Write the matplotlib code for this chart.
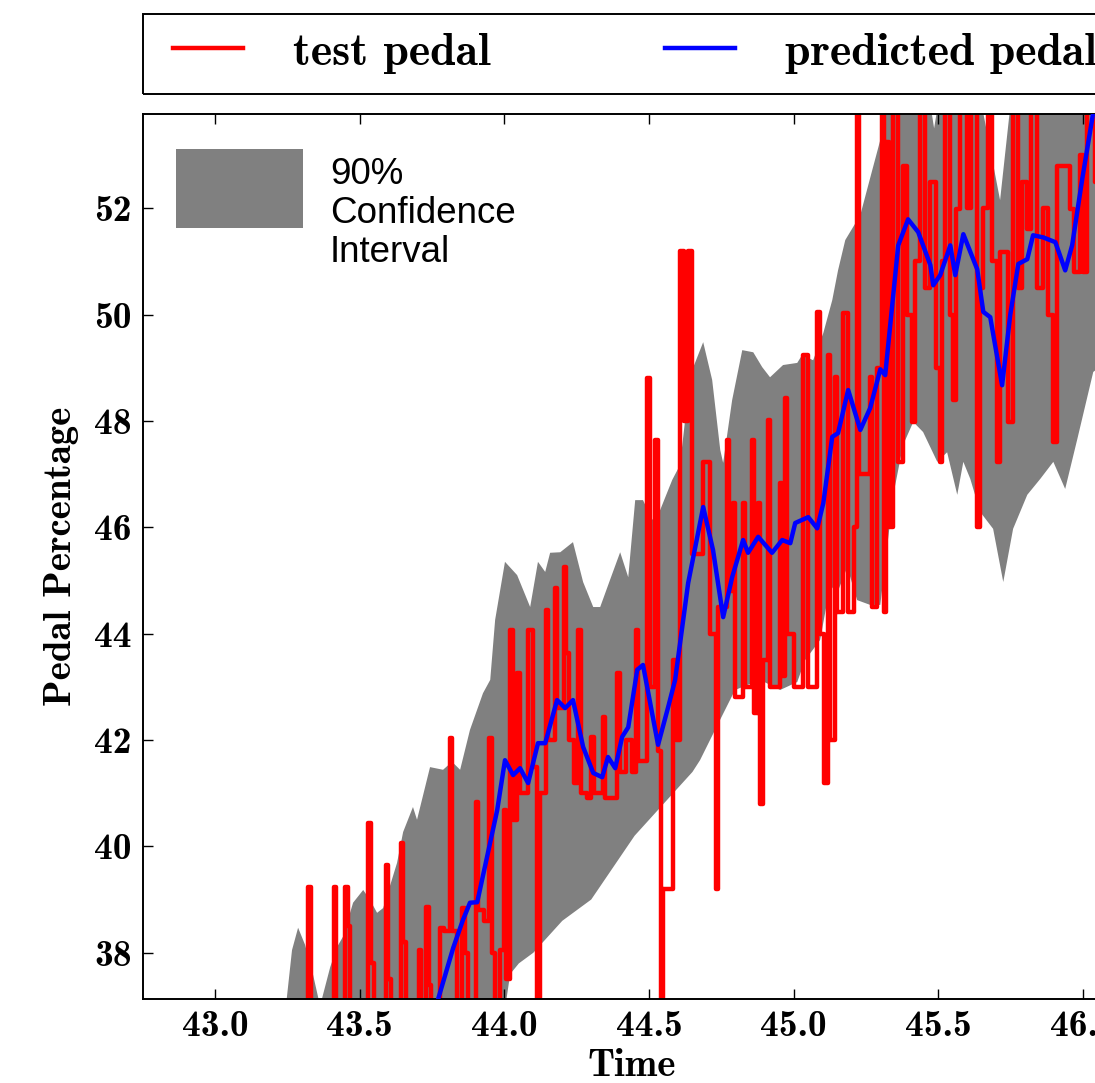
import numpy as np
import matplotlib
matplotlib.use("Agg")
import matplotlib.pyplot as plt
from matplotlib.ticker import FuncFormatter
from matplotlib.patches import Rectangle

# predicted pedal (blue)
pred_t = [43.771, 43.823, 43.857, 43.881, 43.906, 43.940, 43.975, 44.002, 44.030, 44.054,
          44.082, 44.116, 44.141, 44.182, 44.210, 44.237, 44.272, 44.307, 44.338, 44.358,
          44.383, 44.407, 44.428, 44.459, 44.479, 44.531, 44.566, 44.590, 44.635, 44.687,
          44.721, 44.756, 44.787, 44.825, 44.842, 44.877, 44.925, 44.960, 44.988, 45.005,
          45.050, 45.081, 45.102, 45.133, 45.153, 45.188, 45.230, 45.264, 45.299, 45.316,
          45.361, 45.395, 45.430, 45.472, 45.482, 45.506, 45.541, 45.558, 45.586, 45.634,
          45.655, 45.679, 45.720, 45.748, 45.776, 45.807, 45.827, 45.862, 45.904, 45.938,
          45.962, 45.997, 46.035, 46.100]
pred_v = [37.13, 38.09, 38.62, 38.94, 38.95, 39.80, 40.68, 41.62, 41.34, 41.47,
          41.19, 41.94, 41.94, 42.75, 42.60, 42.75, 41.87, 41.38, 41.30, 41.68,
          41.47, 42.06, 42.24, 43.32, 43.41, 41.91, 42.62, 43.13, 44.95, 46.38,
          45.57, 44.31, 45.06, 45.76, 45.52, 45.82, 45.52, 45.76, 45.70, 46.08,
          46.19, 45.98, 46.45, 47.70, 47.77, 48.58, 47.83, 48.24, 48.97, 48.86,
          51.30, 51.79, 51.55, 50.93, 50.55, 50.74, 51.30, 50.74, 51.51, 50.85,
          50.05, 49.95, 48.67, 49.99, 50.95, 51.04, 51.49, 51.45, 51.36, 50.83,
          51.30, 52.55, 53.80, 55.50]

# 90% confidence band, upper and lower edges
band_hi_t = [43.245, 43.266, 43.287, 43.311, 43.339, 43.363, 43.398, 43.422, 43.442, 43.477,
             43.512, 43.536, 43.560, 43.581, 43.629, 43.650, 43.684, 43.698, 43.743, 43.788,
             43.819, 43.847, 43.881, 43.926, 43.951, 43.968, 44.002, 44.044, 44.089, 44.116,
             44.141, 44.158, 44.193, 44.237, 44.272, 44.307, 44.331, 44.365, 44.400, 44.428,
             44.452, 44.479, 44.511, 44.538, 44.580, 44.607, 44.642, 44.687, 44.718, 44.746,
             44.756, 44.787, 44.822, 44.860, 44.891, 44.918, 44.963, 45.012, 45.029, 45.067,
             45.102, 45.133, 45.153, 45.178, 45.230, 45.271, 45.299, 45.316, 45.368, 45.465,
             45.485, 45.506, 45.651, 45.713, 45.748, 46.200]
band_hi_v = [37.00, 38.05, 38.47, 38.15, 37.58, 37.00, 37.73, 38.11, 38.30, 38.94,
             39.18, 38.99, 38.75, 38.84, 39.69, 40.27, 40.74, 40.50, 41.49, 41.44,
             41.59, 41.44, 42.19, 42.88, 43.13, 44.26, 45.35, 45.10, 44.50, 45.35,
             45.16, 45.52, 45.53, 45.72, 44.97, 44.50, 44.50, 45.01, 45.53, 45.06,
             46.51, 46.51, 46.14, 46.32, 46.89, 47.17, 48.86, 49.48, 48.77, 47.45,
             47.21, 48.39, 49.33, 49.29, 49.01, 48.82, 49.05, 49.09, 49.24, 49.14,
             49.65, 50.27, 50.83, 51.40, 51.87, 52.71, 53.28, 54.03, 56.00, 54.20,
             53.50, 54.20, 53.90, 52.15, 53.90, 56.00]
band_lo_t = [43.245, 43.990, 44.020, 44.050, 44.100, 44.150, 44.200, 44.250, 44.300, 44.350,
             44.400, 44.450, 44.500, 44.550, 44.600, 44.650, 44.676, 44.728, 44.797, 44.884,
             44.953, 45.012, 45.039, 45.091, 45.126, 45.150, 45.185, 45.219, 45.264, 45.299,
             45.344, 45.378, 45.413, 45.447, 45.496, 45.530, 45.565, 45.586, 45.610, 45.644,
             45.689, 45.724, 45.758, 45.807, 45.852, 45.897, 45.938, 45.980, 46.035, 46.200]
band_lo_v = [36.00, 36.50, 37.60, 37.80, 38.00, 38.30, 38.60, 38.80, 39.00, 39.40,
             39.80, 40.20, 40.50, 40.80, 41.10, 41.40, 41.62, 42.19, 42.94, 43.13,
             42.94, 43.09, 43.50, 43.88, 44.91, 44.76, 45.25, 44.63, 44.54, 44.54,
             46.61, 47.55, 47.98, 47.79, 47.23, 47.41, 46.61, 47.23, 46.91, 46.29,
             45.97, 44.97, 45.97, 46.61, 46.91, 47.23, 46.72, 47.66, 48.92, 49.60]

# test pedal (red), sample-and-hold values
test_t = [43.300, 43.322, 43.333, 43.410, 43.418, 43.450, 43.458, 43.468, 43.530, 43.538,
          43.548, 43.590, 43.598, 43.608, 43.642, 43.650, 43.660, 43.704, 43.712, 43.730,
          43.738, 43.746, 43.778, 43.790, 43.812, 43.820, 43.835, 43.855, 43.864, 43.874,
          43.902, 43.910, 43.930, 43.948, 43.956, 43.968, 43.986, 43.998, 44.006, 44.020,
          44.030, 44.045, 44.055, 44.080, 44.100, 44.112, 44.122, 44.144, 44.152, 44.174,
          44.182, 44.206, 44.214, 44.222, 44.240, 44.255, 44.263, 44.285, 44.300, 44.308,
          44.340, 44.348, 44.390, 44.398, 44.420, 44.440, 44.455, 44.463, 44.494, 44.502,
          44.522, 44.530, 44.540, 44.548, 44.582, 44.592, 44.607, 44.620, 44.633, 44.650,
          44.687, 44.711, 44.730, 44.738, 44.768, 44.776, 44.790, 44.798, 44.823, 44.831,
          44.854, 44.862, 44.876, 44.884, 44.892, 44.910, 44.918, 44.951, 44.959, 44.968,
          44.976, 45.000, 45.031, 45.048, 45.082, 45.090, 45.103, 45.117, 45.125, 45.141,
          45.149, 45.170, 45.186, 45.208, 45.217, 45.225, 45.262, 45.270, 45.288, 45.304,
          45.312, 45.320, 45.330, 45.342, 45.360, 45.376, 45.390, 45.410, 45.420, 45.436,
          45.455, 45.470, 45.490, 45.504, 45.514, 45.522, 45.540, 45.550, 45.560, 45.574,
          45.600, 45.614, 45.632, 45.642, 45.655, 45.670, 45.685, 45.702, 45.712, 45.740,
          45.756, 45.775, 45.790, 45.806, 45.820, 45.840, 45.860, 45.880, 45.896, 45.910,
          45.954, 45.968, 45.990, 46.000, 46.014, 46.040, 46.060, 46.110]
test_v = [36.5, 39.24, 36.5, 39.24, 36.5, 39.24, 38.5, 36.5, 40.44, 37.8,
          36.5, 39.65, 37.5, 36.5, 40.06, 38.2, 36.5, 38.05, 36.5, 38.86,
          37.4, 36.5, 38.47, 38.40, 42.04, 38.40, 36.8, 38.84, 38.0, 36.8,
          40.83, 38.8, 38.6, 42.04, 38.0, 36.9, 38.05, 40.68, 37.5, 44.07,
          40.5, 43.26, 41.0, 44.07, 41.5, 36.8, 41.0, 44.44, 42.0, 44.86,
          42.6, 45.25, 43.64, 42.0, 41.2, 44.07, 41.0, 40.9, 42.06, 41.0,
          42.43, 40.9, 43.26, 41.4, 42.0, 41.4, 44.07, 41.6, 48.8, 43.0,
          47.64, 41.8, 36.8, 39.2, 43.5, 42.0, 51.2, 48.0, 51.2, 45.5,
          47.23, 44.0, 39.2, 44.5, 47.64, 44.8, 46.45, 42.8, 46.45, 43.0,
          47.64, 42.5, 46.45, 40.8, 43.5, 48.02, 43.0, 46.83, 43.2, 48.43,
          44.0, 43.0, 49.24, 43.0, 50.05, 44.0, 41.2, 49.24, 42.0, 48.82,
          44.4, 50.03, 44.4, 46.0, 54.0, 47.0, 48.82, 44.5, 49.0, 54.0,
          44.4, 53.24, 46.0, 54.0, 47.23, 52.8, 50.0, 47.98, 51.0, 54.0,
          50.5, 52.5, 49.0, 47.23, 51.0, 54.0, 50.0, 48.4, 51.98, 54.0,
          52.0, 54.0, 46.0, 50.5, 52.0, 54.0, 51.0, 47.23, 51.17, 47.98,
          54.0, 50.5, 52.5, 51.6, 54.0, 50.5, 52.0, 50.0, 47.6, 52.8,
          51.98, 50.8, 53.0, 50.8, 54.0, 52.5, 54.0, 54.0]

x_ticks = [43.0, 43.5, 44.0, 44.5, 45.0, 45.5, 46.0]
y_ticks = [38, 40, 42, 44, 46, 48, 50, 52]

CM = 'cmb10'   # Computer Modern bold, shipped with matplotlib
SANS = ['Liberation Sans', 'DejaVu Sans']

W, H = 1095, 1083
fig = plt.figure(figsize=(W / 100, H / 100), dpi=100)
ax = fig.add_axes([143 / W, 84 / H, 998 / W, 885 / H])

band_x = np.concatenate([band_hi_t, band_lo_t[::-1]])
band_y = np.concatenate([band_hi_v, band_lo_v[::-1]])
ax.fill(band_x, band_y, color='#808080', lw=0, zorder=1)

red, = ax.plot(test_t, test_v, color='#ff0000', lw=3.2, drawstyle='steps-post', zorder=2)
blue, = ax.plot(pred_t, pred_v, color='#0000ff', lw=3.2, zorder=3)

ax.set_xlim(42.751, 46.2)
ax.set_ylim(37.13, 53.77)
ax.set_xticks(x_ticks)
ax.set_yticks(y_ticks)
ax.xaxis.set_major_formatter(FuncFormatter(lambda v, p: '%.1f' % v))
ax.yaxis.set_major_formatter(FuncFormatter(lambda v, p: '%d' % v))
ax.tick_params(direction='in', top=True, right=True, length=7, width=1, pad=8)
for lab in ax.get_xticklabels() + ax.get_yticklabels():
    lab.set_fontfamily(CM)
    lab.set_fontsize(27)
for s in ax.spines.values():
    s.set_linewidth(1.4)

ax.set_xlabel('Time', fontsize=28, family=CM)
ax.xaxis.set_label_coords(0.49, -0.057)
ax.set_ylabel('Pedal Percentage', fontsize=28, family=CM)
ax.yaxis.set_label_coords(-0.064, 0.5)

leg = ax.legend([red, blue], ['test pedal', 'predicted pedal'],
                loc='center left', bbox_to_anchor=(30 / 998, (999 - 53) / 885),
                ncol=2, borderaxespad=0, borderpad=0, frameon=False,
                prop={'family': CM, 'size': 33}, handlelength=1.53,
                handletextpad=1.09, columnspacing=3.8)
# box drawn round the top legend, running off the right edge like the source
fig.patches.append(Rectangle((143 / W, (H - 94) / H), 1200 / W, 80 / H,
                             transform=fig.transFigure, fill=False,
                             edgecolor='black', lw=1.4))

# confidence band key
ax.add_patch(Rectangle((0.0331, 0.8712), 0.1273, 0.0893, transform=ax.transAxes,
                       color='#808080', lw=0, zorder=5))
ax.text(0.1874, 0.951, '90%\nConfidence\nInterval', transform=ax.transAxes,
        ha='left', va='top', fontsize=26.5, family=SANS,
        linespacing=1.15, zorder=5)

fig.savefig('out.png', dpi=100)
